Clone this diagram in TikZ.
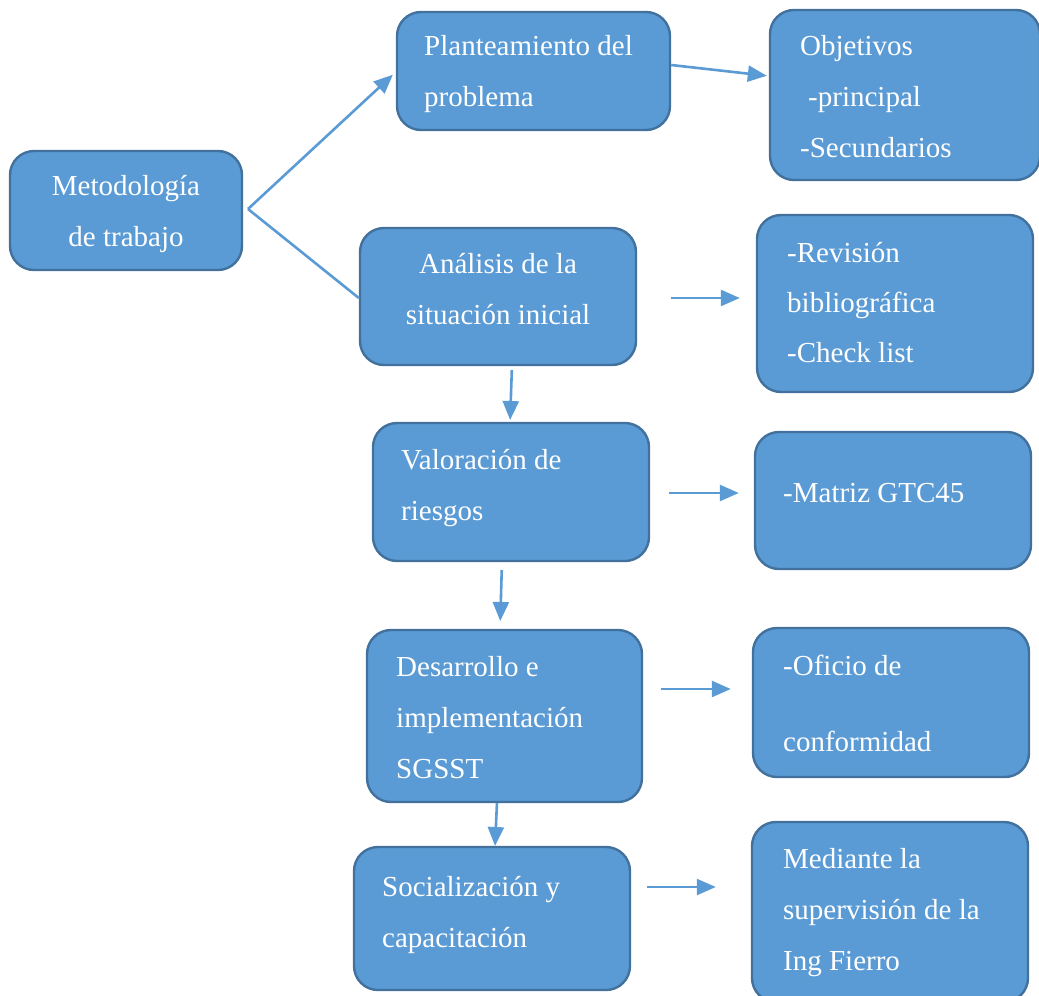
\documentclass[tikz,border=0pt]{standalone}
\usepackage{fontspec}
\setmainfont{Liberation Serif}
\usetikzlibrary{arrows.meta}
\definecolor{boxfill}{HTML}{5B9BD5}
\definecolor{boxline}{HTML}{41719C}
\begin{document}
\begin{tikzpicture}[x=1pt,y=-1pt,
  box/.style={draw=boxline, line width=2.4pt, fill=boxfill, rounded corners=24pt, inner sep=0pt},
  txt/.style={text=white, inner sep=0pt, font=\fontsize{29}{51}\selectfont, align=left, anchor=base west},
  ctxt/.style={txt, align=center, anchor=base},
  arr/.style={draw=boxfill, line width=2.6pt, -{Triangle[length=19pt,width=16pt]}},
  ln/.style={draw=boxfill, line width=2.6pt}]
\useasboundingbox (0,0) rectangle (1039,996);
% boxes
\node[box, minimum width=232pt, minimum height=119pt] (met) at (126,210.5) {};
\node[box, minimum width=273pt, minimum height=118pt] (pla) at (533.5,71) {};
\node[box, minimum width=270pt, minimum height=170pt] (obj) at (905,95) {};
\node[box, minimum width=276pt, minimum height=137pt] (ana) at (498,296.5) {};
\node[box, minimum width=276pt, minimum height=177pt] (rev) at (895,303.5) {};
\node[box, minimum width=276pt, minimum height=138pt] (val) at (511,492) {};
\node[box, minimum width=276pt, minimum height=137pt] (mat) at (893,500.5) {};
\node[box, minimum width=275pt, minimum height=172pt] (des) at (504.5,716) {};
\node[box, minimum width=276pt, minimum height=149pt] (ofi) at (891,702.5) {};
\node[box, minimum width=276pt, minimum height=143pt] (soc) at (492,918.5) {};
\node[box, minimum width=276pt, minimum height=180pt] (med) at (890,912) {};
% texts (anchored at the baseline of the last line)
\node[ctxt] (tmet) at (126,246) {Metodología\\de trabajo};
\node[txt] (tpla) at (424,106) {Planteamiento del\\problema};
\node[txt] (tobj) at (800,157) {Objetivos\\\hspace*{8pt}-principal\\-Secundarios};
\node[ctxt] (tana) at (498,324) {Análisis de la\\situación inicial};
\node[txt, font=\fontsize{29}{50}\selectfont] (trev) at (787,362) {-Revisión\\bibliográfica\\-Check list};
\node[txt] (tval) at (401,520) {Valoración de\\riesgos};
\node[txt] (tmat) at (783,502) {-Matriz GTC45};
\node[txt] (tdes) at (396,778) {Desarrollo e\\implementación\\SGSST};
\node[txt] (tofi) at (783,675) {-Oficio de};
\node[txt] (tofi2) at (783,751) {conformidad};
\node[txt] (tsoc) at (382,947) {Socialización y\\capacitación};
\node[txt] (tmed) at (783,970) {Mediante la\\supervisión de la\\Ing Fierro};
% connectors
\coordinate (mo) at (248,209);
\draw[arr, shorten >=4pt] (mo) -- (pla.west |- 0,72);
\draw[ln] (mo) -- (ana.west |- 0,298);
\draw[arr, shorten >=2pt] (pla.east |- 0,65) -- (obj.west |- 0,76);
\draw[arr, shorten <=34pt, shorten >=16pt] (ana.east |- 0,298) -- (rev.west |- 0,298);
\draw[arr, shorten <=5pt, shorten >=3pt] (512,365) -- (510,423);
\draw[arr, shorten <=19pt, shorten >=15pt] (val.east |- 0,493) -- (mat.west |- 0,493);
\draw[arr, shorten <=9pt, shorten >=9pt] (502,561) -- (500,630);
\draw[arr, shorten <=18pt, shorten >=21pt] (des.east |- 0,689) -- (ofi.west |- 0,689);
\draw[arr, shorten <=1pt, shorten >=1pt] (497,802) -- (495,847);
\draw[arr, shorten <=16pt, shorten >=35pt] (soc.east |- 0,887) -- (med.west |- 0,887);
\end{tikzpicture}
\end{document}
